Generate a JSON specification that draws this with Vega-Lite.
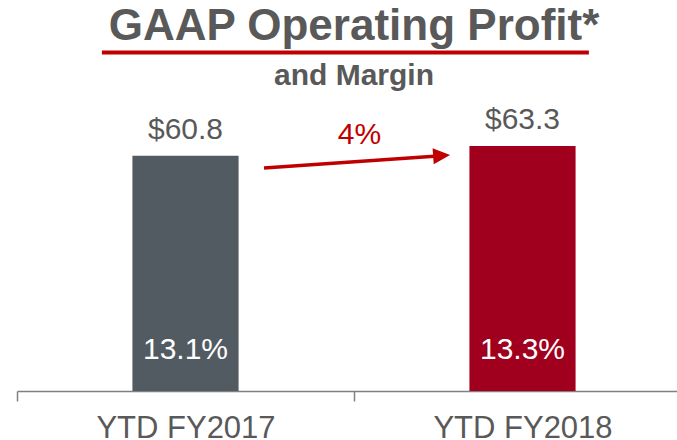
{
  "$schema": "https://vega.github.io/schema/vega-lite/v6.json",
  "width": 660,
  "height": 281,
  "autosize": "none",
  "padding": {"left": 17, "top": 110, "right": 0, "bottom": 49},
  "background": "white",
  "config": {"view": {"stroke": null}, "font": "Liberation Sans"},
  "title": {
    "text": "GAAP Operating Profit*",
    "subtitle": "and Margin",
    "anchor": "middle",
    "frame": "group",
    "dx": 7,
    "offset": -41,
    "font": "Liberation Sans",
    "fontSize": 44,
    "fontWeight": "bold",
    "color": "#595959",
    "subtitleFont": "Liberation Sans",
    "subtitleFontSize": 30,
    "subtitleFontWeight": "bold",
    "subtitleColor": "#595959",
    "subtitlePadding": 12
  },
  "datasets": {
    "bars": [
      {"period": "YTD FY2017", "value": 60.8, "label": "$60.8", "margin": "13.1%"},
      {"period": "YTD FY2018", "value": 63.3, "label": "$63.3", "margin": "13.3%"}
    ],
    "arrow": [{"x": 0.733, "y": 57.6, "x2": 1.26, "y2": 60.8}],
    "head": [{"x": 1.26, "y": 60.8}],
    "growth": [{"x": 1.016, "y": 63.82, "label": "4%"}],
    "underline": [{"x": 0.252, "x2": 1.697, "y": 87.47}]
  },
  "layer": [
    {
      "data": {"name": "bars"},
      "encoding": {
        "x": {
          "field": "period",
          "type": "nominal",
          "sort": null,
          "scale": {"range": [0, 674], "paddingInner": 0, "paddingOuter": 0},
          "axis": {
            "title": null,
            "labelAngle": 0,
            "tickBand": "extent",
            "domainColor": "#808080",
            "domainWidth": 1.5,
            "tickColor": "#808080",
            "tickWidth": 1.5,
            "tickSize": 10,
            "labelFont": "Liberation Sans",
            "labelFontSize": 31,
            "labelColor": "#595959",
            "labelPadding": 12
          }
        }
      },
      "layer": [
        {
          "mark": {"type": "bar", "width": {"band": 0.315}},
          "encoding": {
            "y": {"field": "value", "type": "quantitative", "scale": {"domain": [0, 72.61], "nice": false, "zero": false}, "axis": null},
            "color": {"field": "period", "type": "nominal", "sort": null, "scale": {"range": ["#535b62", "#a0001e"]}, "legend": null}
          }
        },
        {
          "mark": {"type": "text", "baseline": "alphabetic", "align": "center", "dy": -17, "fontSize": 30, "font": "Liberation Sans", "color": "#595959"},
          "encoding": {
            "y": {"field": "value", "type": "quantitative", "scale": {"domain": [0, 72.61], "nice": false, "zero": false}, "axis": null},
            "text": {"field": "label"}
          }
        },
        {
          "mark": {"type": "text", "baseline": "alphabetic", "align": "center", "dy": -32, "fontSize": 30, "font": "Liberation Sans", "color": "#ffffff"},
          "encoding": {
            "y": {"datum": 0, "type": "quantitative", "scale": {"domain": [0, 72.61], "nice": false, "zero": false}, "axis": null},
            "text": {"field": "margin"}
          }
        }
      ]
    },
    {
      "layer": [
        {
          "data": {"name": "arrow"},
          "mark": {"type": "rule", "color": "#c00000", "strokeWidth": 3.5},
          "encoding": {
            "x": {"field": "x", "type": "quantitative", "scale": {"domain": [0, 2], "range": [0, 674], "nice": false, "zero": false}, "axis": null},
            "x2": {"field": "x2"},
            "y": {"field": "y", "type": "quantitative", "scale": {"domain": [0, 72.61], "nice": false, "zero": false}, "axis": null},
            "y2": {"field": "y2"}
          }
        },
        {
          "data": {"name": "head"},
          "mark": {"type": "point", "shape": "M-1,-0.95L1,0L-1,0.95Z", "size": 289, "filled": true, "color": "#c00000", "opacity": 1, "angle": -4, "strokeWidth": 0},
          "encoding": {
            "x": {"field": "x", "type": "quantitative", "scale": {"domain": [0, 2], "range": [0, 674], "nice": false, "zero": false}, "axis": null},
            "y": {"field": "y", "type": "quantitative", "scale": {"domain": [0, 72.61], "nice": false, "zero": false}, "axis": null}
          }
        },
        {
          "data": {"name": "growth"},
          "mark": {"type": "text", "baseline": "alphabetic", "align": "center", "fontSize": 30, "font": "Liberation Sans", "color": "#c00000"},
          "encoding": {
            "x": {"field": "x", "type": "quantitative", "scale": {"domain": [0, 2], "range": [0, 674], "nice": false, "zero": false}, "axis": null},
            "y": {"field": "y", "type": "quantitative", "scale": {"domain": [0, 72.61], "nice": false, "zero": false}, "axis": null},
            "text": {"field": "label"}
          }
        },
        {
          "data": {"name": "underline"},
          "mark": {"type": "rule", "color": "#c00000", "strokeWidth": 4},
          "encoding": {
            "x": {"field": "x", "type": "quantitative", "scale": {"domain": [0, 2], "range": [0, 674], "nice": false, "zero": false}, "axis": null},
            "x2": {"field": "x2"},
            "y": {"field": "y", "type": "quantitative", "scale": {"domain": [0, 72.61], "nice": false, "zero": false}, "axis": null}
          }
        }
      ]
    }
  ],
  "resolve": {"scale": {"x": "independent"}}
}
